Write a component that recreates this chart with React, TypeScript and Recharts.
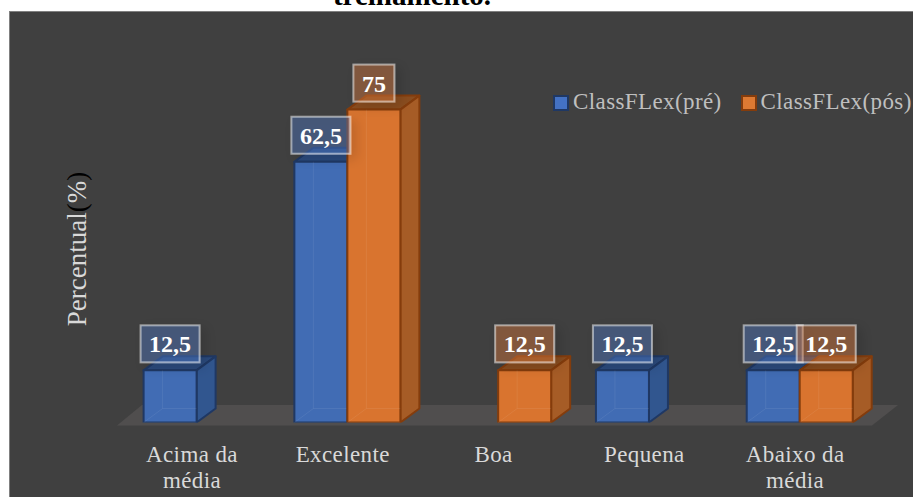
import { BarChart, Bar, XAxis, YAxis, LabelList } from "recharts";

const categories = ["Acima da média", "Excelente", "Boa", "Pequena", "Abaixo da média"];
const preValues = [12.5, 62.5, null, 12.5, 12.5];
const posValues = [null, 75, 12.5, null, 12.5];
const seriesNames = ["ClassFLex(pré)", "ClassFLex(pós)"];
const titleText = "treinamento.";

const chartData = categories.map((name, i) => ({
  name,
  pre: preValues[i],
  pos: posValues[i],
}));

const SERIF = "'Liberation Serif', serif";
const DEPTH_X = 19;
const DEPTH_Y = 14;

const blue = { front: "#416cb4", side: "#31568f", top: "#2b4a7c", line: "#1f3864", box: "rgba(80,125,205,0.38)" };
const orange = { front: "#d9742f", side: "#a65c26", top: "#8a4d1f", line: "#843c0c", box: "rgba(215,120,60,0.42)" };

// caja 3D: frente, lado y tapa
const Box3D = ({ x, y, width, height, colors }: any) => {
  if (!height) return null;
  const r = x + width;
  const b = y + height;
  return (
    <g stroke={colors.line} strokeWidth={2} strokeLinejoin="round">
      <polygon points={`${x},${y} ${r},${y} ${r + DEPTH_X},${y - DEPTH_Y} ${x + DEPTH_X},${y - DEPTH_Y}`} fill={colors.top} />
      <polygon points={`${r},${y} ${r + DEPTH_X},${y - DEPTH_Y} ${r + DEPTH_X},${b - DEPTH_Y} ${r},${b}`} fill={colors.side} />
      <rect x={x} y={y} width={width} height={height} fill={colors.front} />
      <path
        d={`M${x + DEPTH_X} ${y} V${b - DEPTH_Y} H${r} M${x + DEPTH_X} ${b - DEPTH_Y} L${x} ${b}`}
        stroke="#ffffff"
        strokeOpacity={0.07}
        strokeWidth={1}
        fill="none"
      />
    </g>
  );
};

const ValueBox = ({ x, y, width, value, colors }: any) => {
  if (value === null || value === undefined) return null;
  const text = String(value).replace(".", ",");
  const boxW = text.length > 2 ? 59 : 41;
  const cx = x + width / 2;
  return (
    <g>
      <rect
        x={cx - boxW / 2}
        y={y - 45}
        width={boxW}
        height={37}
        fill={colors.box}
        stroke="#ffffff"
        strokeOpacity={0.5}
        strokeWidth={2}
        filter="url(#boxShadow)"
      />
      <text x={cx} y={y - 18} textAnchor="middle" fontFamily={SERIF} fontWeight="bold" fontSize={24} fill="#ffffff">
        {text}
      </text>
    </g>
  );
};

const CategoryTick = ({ x, y, payload }: any) => {
  const words = payload.value.split(" ");
  const lines = words.length > 1 ? [words.slice(0, -1).join(" "), words[words.length - 1]] : words;
  return (
    <text x={x - 5} y={y} textAnchor="middle" fontFamily={SERIF} fontSize={23} letterSpacing={0.4} fill="#d9d9d9">
      {lines.map((line: string, i: number) => (
        <tspan key={line} x={x - 5} y={462 + i * 26}>
          {line}
        </tspan>
      ))}
    </text>
  );
};

const AxisTitle = () => (
  <text
    transform="translate(86,249) rotate(-90)"
    textAnchor="middle"
    fontFamily={SERIF}
    fontSize={27}
    fill="#d9d9d9"
  >
    Percentual<tspan fill="#000000">(</tspan>%<tspan fill="#000000">)</tspan>
  </text>
);

const LegendRow = () => (
  <div style={{ position: "absolute", left: 553, top: 87, width: 360, height: 30, fontFamily: SERIF, fontSize: 23, color: "#bfbfbf" }}>
    {[blue, orange].map((c, i) => (
      <div key={i} style={{ position: "absolute", left: i * 187.5, top: 0, whiteSpace: "nowrap", lineHeight: "30px" }}>
        <span
          style={{
            position: "absolute",
            left: 0,
            top: 8,
            width: 12,
            height: 12,
            background: i ? "#dd7a33" : "#4472c4",
            border: `2px solid ${c.line}`,
          }}
        />
        <span style={{ marginLeft: 20, letterSpacing: 0.4 }}>{seriesNames[i]}</span>
      </div>
    ))}
  </div>
);

export default function App() {
  return (
    <div style={{ position: "absolute", left: 0, top: 0, width: 913, height: 497, background: "#ffffff", overflow: "hidden" }}>
      <BarChart
        width={913}
        height={497}
        data={chartData}
        margin={{ top: 47, right: 37.5, bottom: 0, left: 61.6 }}
        barGap={0}
        barSize={53}
      >
        <defs>
          <filter id="boxShadow" x="-30%" y="-30%" width="170%" height="170%">
            <feDropShadow dx={5} dy={4} stdDeviation={6} floodColor="#000000" floodOpacity={0.3} />
          </filter>
        </defs>
        <text x={412} y={5} textAnchor="middle" fontFamily={SERIF} fontWeight="bold" fontSize={29} fill="#000000">
          {titleText}
        </text>
        <rect x={9.5} y={11.5} width={910} height={495} fill="#404040" stroke="#808080" strokeWidth={1} />
        <polygon points="117,425.5 142,405 898,405 872,425.5" fill="#504e4e" />
        <XAxis dataKey="name" axisLine={false} tickLine={false} interval={0} height={74.5} tick={<CategoryTick />} />
        <YAxis domain={[0, 90]} allowDataOverflow width={60} axisLine={false} tick={false} tickLine={false} label={<AxisTitle />} />
        <Bar dataKey="pre" name={seriesNames[0]} isAnimationActive={false} shape={(p: any) => <Box3D {...p} colors={blue} />}>
          <LabelList dataKey="pre" content={(p: any) => <ValueBox {...p} colors={blue} />} />
        </Bar>
        <Bar dataKey="pos" name={seriesNames[1]} isAnimationActive={false} shape={(p: any) => <Box3D {...p} colors={orange} />}>
          <LabelList dataKey="pos" content={(p: any) => <ValueBox {...p} colors={orange} />} />
        </Bar>
      </BarChart>
      <LegendRow />
    </div>
  );
}
